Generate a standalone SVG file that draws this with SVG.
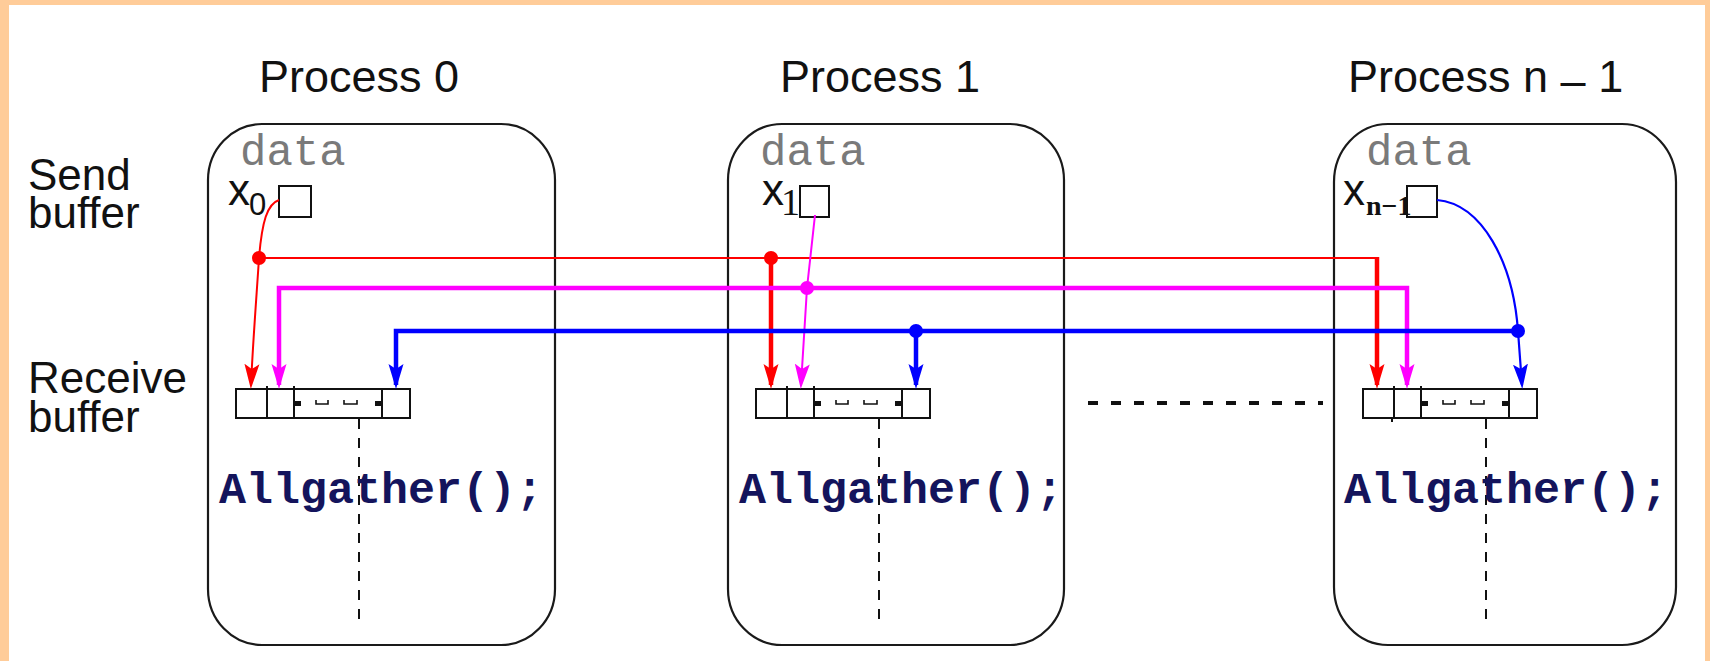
<svg xmlns="http://www.w3.org/2000/svg" xmlns:xlink="http://www.w3.org/1999/xlink" width="1710" height="661" viewBox="0 0 1710 661">
  <style>
    .frame { fill: #FFCC99; }
    .proc { fill: none; stroke: #1a1a1a; stroke-width: 2.2; }
    .title, .side, .var { font-family: "Liberation Sans", Arial, Helvetica, sans-serif; fill: #111; }
    .title { font-size: 45px; }
    .side { font-size: 44px; }
    .var { font-size: 44px; }
    .sub0 { font-family: "Liberation Sans", Arial, sans-serif; font-size: 31px; fill: #111; }
    .subs { font-family: "Liberation Serif", "Times New Roman", serif; fill: #111; }
    .data { font-family: "Liberation Mono", "Courier New", monospace; font-size: 44px; fill: #7a7a7a; }
    .call { font-family: "Liberation Mono", "Courier New", monospace; font-weight: bold; font-size: 45px; fill: #14145c; }
    .cell { fill: none; stroke: #111; stroke-width: 2; }
    .tick { stroke: #111; stroke-width: 2; }
    .gap { fill: none; stroke: #111; stroke-width: 1.6; }
    .mark { fill: #111; }
    .vdash { stroke: #111; stroke-width: 2; stroke-dasharray: 10 9; fill: none; }
    .hdots { stroke: #111; stroke-width: 4; stroke-dasharray: 10 13; fill: none; }
    .c { fill: none; stroke-linejoin: miter; }
    .thin { stroke-width: 2; }
    .thick { stroke-width: 4.5; }
    .red { stroke: #ff0000; }
    .mag { stroke: #ff00ff; }
    .blu { stroke: #0000ff; }
    .ar { marker-end: url(#ah-red); }
    .am { marker-end: url(#ah-mag); }
    .ab { marker-end: url(#ah-blu); }
  </style>
  <defs>
    <marker id="ah-red" viewBox="0 -8 27 16" markerWidth="27" markerHeight="16" refX="21" refY="0" orient="auto" markerUnits="userSpaceOnUse">
      <path d="M0,-7.5 L25,0 L0,7.5 L5,0 z" fill="#ff0000"/>
    </marker>
    <marker id="ah-mag" viewBox="0 -8 27 16" markerWidth="27" markerHeight="16" refX="21" refY="0" orient="auto" markerUnits="userSpaceOnUse">
      <path d="M0,-7.5 L25,0 L0,7.5 L5,0 z" fill="#ff00ff"/>
    </marker>
    <marker id="ah-blu" viewBox="0 -8 27 16" markerWidth="27" markerHeight="16" refX="21" refY="0" orient="auto" markerUnits="userSpaceOnUse">
      <path d="M0,-7.5 L25,0 L0,7.5 L5,0 z" fill="#0000ff"/>
    </marker>
    <!-- receive buffer: n cells with an elided middle section, plus the dashed drop line -->
    <g id="rbuf">
      <rect class="cell" x="0" y="0" width="174" height="29"/>
      <line class="tick" x1="31" y1="-3" x2="31" y2="29"/>
      <line class="tick" x1="58" y1="-3" x2="58" y2="29"/>
      <line class="tick" x1="146" y1="0" x2="146" y2="29"/>
      <rect class="mark" x="58" y="12" width="7" height="5"/>
      <rect class="mark" x="139" y="12" width="7" height="5"/>
      <path class="gap" d="M80,11 v4 h12 v-4"/>
      <path class="gap" d="M108,11 v4 h13 v-4"/>
      <line class="vdash" x1="123" y1="30" x2="123" y2="234"/>
    </g>
  </defs>

  <!-- page background and frame -->
  <rect x="0" y="0" width="1710" height="661" fill="#ffffff"/>
  <rect class="frame" x="0" y="0" width="1710" height="5"/>
  <rect class="frame" x="0" y="0" width="9" height="661"/>
  <rect class="frame" x="1705" y="0" width="5" height="661"/>

  <!-- row labels -->
  <g id="labels">
    <text class="side" x="28" y="190">Send</text>
    <text class="side" x="28" y="228">buffer</text>
    <text class="side" x="28" y="393">Receive</text>
    <text class="side" x="28" y="432">buffer</text>
  </g>

  <!-- process 0 -->
  <g id="process0">
    <text class="title" x="259" y="92">Process 0</text>
    <rect class="proc" x="208" y="124" width="347" height="521" rx="54" ry="56"/>
    <text class="data" x="240" y="165">data</text>
    <text class="var" x="228" y="205">x</text>
    <text class="sub0" x="249" y="215">0</text>
    <rect class="cell" x="279" y="186" width="32" height="31"/>
    <use xlink:href="#rbuf" x="236" y="389"/>
    <text class="call" x="219" y="503">Allgather();</text>
  </g>

  <!-- process 1 -->
  <g id="process1">
    <text class="title" x="780" y="92">Process 1</text>
    <rect class="proc" x="728" y="124" width="336" height="521" rx="54" ry="56"/>
    <text class="data" x="760" y="165">data</text>
    <text class="var" x="762" y="205">x</text>
    <text class="subs" x="781" y="215" font-size="38">1</text>
    <rect class="cell" x="800" y="186" width="29" height="31"/>
    <use xlink:href="#rbuf" x="756" y="389"/>
    <text class="call" x="739" y="503">Allgather();</text>
  </g>

  <!-- process n-1 -->
  <g id="processN">
    <text class="title" x="1348" y="92">Process n <tspan dy="4">–</tspan><tspan dy="-4"> 1</tspan></text>
    <rect class="proc" x="1334" y="124" width="342" height="521" rx="54" ry="58"/>
    <text class="data" x="1366" y="165">data</text>
    <text class="var" x="1343" y="205">x</text>
    <text class="subs" x="1366" y="215" font-size="28" font-weight="bold">n−1</text>
    <rect class="cell" x="1407" y="186" width="30" height="31"/>
    <use xlink:href="#rbuf" x="1363" y="389"/>
    <line class="tick" x1="1392" y1="418" x2="1392" y2="422"/>
    <text class="call" x="1344" y="503">Allgather();</text>
  </g>

  <!-- elision between process 1 and process n-1 -->
  <g id="ellipsis">
    <line class="hdots" x1="1088" y1="403" x2="1323" y2="403"/>
  </g>

  <!-- data movement -->
  <g id="connectors">
    <!-- x0 to everyone (red) -->
    <path class="c thin red ar" d="M279,200 C267,204 262,222 259,258 C257,290 253,340 251,385"/>
    <path class="c red" stroke-width="2.2" d="M259,258 H1377"/>
    <path class="c thick red ar" d="M771,258 V385"/>
    <path class="c thick red ar" d="M1377,257 V385"/>
    <circle cx="259" cy="258" r="7" fill="#ff0000"/>
    <circle cx="771" cy="258" r="7" fill="#ff0000"/>

    <!-- x1 to everyone (magenta) -->
    <path class="c thick mag am" d="M807,288 H279 V385"/>
    <path class="c thick mag am" d="M807,288 H1407 V385"/>
    <path class="c thin mag am" d="M815,215 L807,288 L801,385"/>
    <circle cx="807" cy="288" r="7" fill="#ff00ff"/>

    <!-- x(n-1) to everyone (blue) -->
    <path class="c thick blu ab" d="M916,331 H396 V385"/>
    <path class="c thick blu" d="M916,331 H1518"/>
    <path class="c thick blu ab" d="M916,331 V385"/>
    <path class="c blu ab" stroke-width="2.2" d="M1437,200 C1482,204 1513,262 1518,331 L1522,385"/>
    <circle cx="916" cy="331" r="7" fill="#0000ff"/>
    <circle cx="1518" cy="331" r="7" fill="#0000ff"/>
  </g>
</svg>
